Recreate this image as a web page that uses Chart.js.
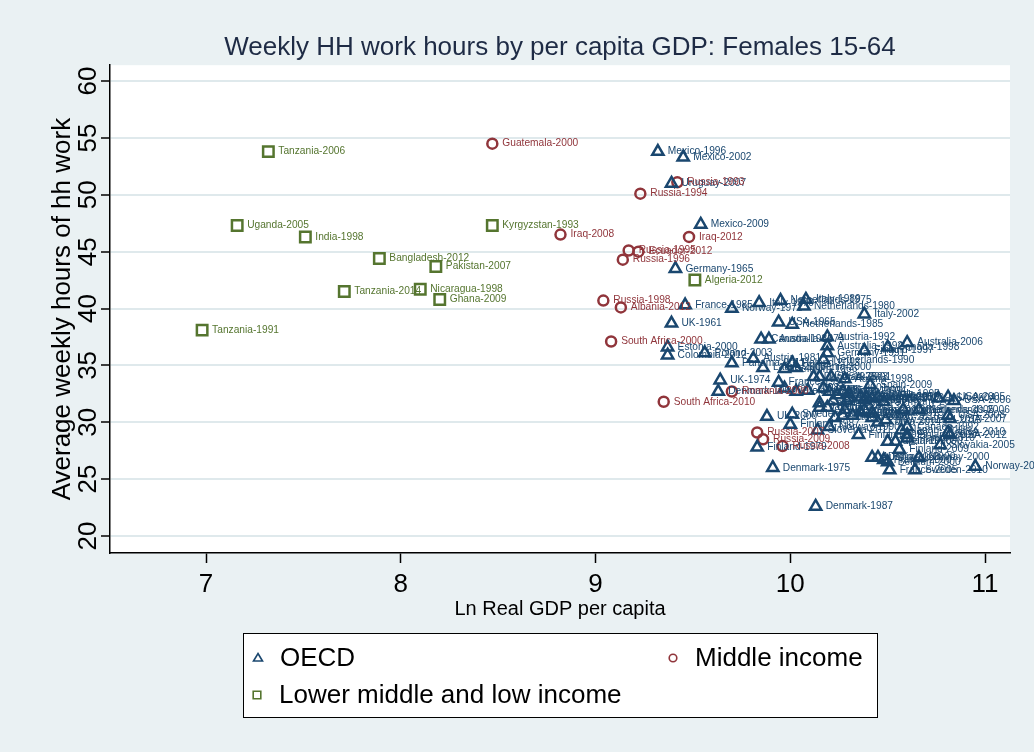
<!DOCTYPE html>
<html>
<head>
<meta charset="utf-8">
<title>Weekly HH work hours by per capita GDP</title>
<script src="https://cdn.jsdelivr.net/npm/chart.js@4.4.0/dist/chart.umd.min.js"></script>
<style>
  html, body { margin: 0; padding: 0; background: #eaf1f3; }
  #wrap { width: 1034px; height: 752px; }
</style>
</head>
<body>
<div id="wrap"><canvas id="myChart" width="1034" height="752"></canvas></div>
<script>
// colours of the stata s2color scheme
const navy = '#1a476f', maroon = '#90353b', green = '#55752f';
const fontFam = '"Liberation Sans", Arial, Helvetica, sans-serif';

const xTicks = [7, 8, 9, 10, 11];
const yTicks = [20, 25, 30, 35, 40, 45, 50, 55, 60];

// OECD
const oecdNames = ['Mexico-1996', 'Mexico-2002', 'Uruguay-2007', 'Mexico-2009', 'Germany-1965', 'France-1985',
  'Norway-1971', 'Italy-1970', 'Netherlands-1975', 'Italy-1989', 'Netherlands-1980', 'Italy-2002', 'UK-1961',
  'USA-1965', 'Netherlands-1985', 'Canada-1986', 'Australia-1974', 'Austria-1992', 'Australia-1992', 'Germany-1991',
  'Finland-1997', 'Canada-1998', 'Australia-2006', 'Netherlands-1990', 'Estonia-2000', 'Colombia-2012', 'Poland-2003',
  'Panama-2011', 'Austria-1981', 'Latvia-2003', 'Belgium-1966', 'Poland-2013', 'Slovenia-2000', 'UK-1974',
  'Denmark-1964', 'France-1999', 'Italy-2008', 'Ireland-2005', 'UK-2005', 'Denmark-2001', 'USA-1975', 'USA-2003',
  'Austria-1998', 'Japan-2001', 'Belgium-1999', 'Slovenia-2001', 'Korea-2004', 'Germany-2001', 'Spain-2003',
  'Portugal-1999', 'Canada-2005', 'Netherlands-1995', 'Sweden-2000', 'Spain-2009', 'Canada-2010', 'Germany-2012',
  'Belgium-2005', 'Israel-2010', 'Korea-2009', 'UK-2000', 'Sweden-1991', 'Finland-1987', 'Norway-1990',
  'Slovenia-2011', 'Japan-2006', 'Belgium-2013', 'Portugal-2009', 'Spain-2010', 'Italy-2014', 'Austria-2008',
  'Canada-2015', 'Ireland-2010', 'Denmark-2010', 'Germany-2013', 'Korea-2014', 'New Zealand-2010',
  'Netherlands-2005', 'Netherlands-2006', 'Canada-1992', 'Japan-2011', 'Finland-2000', 'Finland-1999',
  'Ireland-2000', 'Japan-1996', 'France-2010', 'Finland-2009', 'USA-2004', 'USA-2005', 'USA-2006', 'USA-2008',
  'USA-2007', 'USA-2010', 'USA-2012', 'Slovakia-2005', 'Austria-2000', 'Denmark-2000', 'France-2000',
  'Belgium-2000', 'Norway-2000', 'Sweden-2010', 'France-2005', 'Norway-2010', 'Denmark-1975', 'Denmark-1987',
  'Finland-1979'];
const oecdX = [9.32, 9.45, 9.39, 9.54, 9.41, 9.46,
  9.70, 9.84, 9.95, 10.08, 10.07, 10.38, 9.39,
  9.94, 10.01, 9.85, 9.89, 10.19, 10.19, 10.19,
  10.38, 10.50, 10.60, 10.17, 9.37, 9.37, 9.56,
  9.70, 9.81, 9.86, 9.97, 10.01, 10.03, 9.64,
  9.63, 9.94, 9.97, 10.03, 10.09, 10.12, 10.15, 10.21,
  10.28, 10.17, 10.20, 10.24, 10.27, 10.30, 10.15,
  10.22, 10.29, 10.30, 10.39, 10.41, 10.42, 10.48,
  10.36, 10.45, 10.38, 9.88, 10.01, 10.00, 10.20,
  10.14, 10.15, 10.19, 10.23, 10.27, 10.32, 10.36,
  10.42, 10.42, 10.28, 10.38, 10.45, 10.49,
  10.58, 10.66, 10.60, 10.57, 10.60, 10.35,
  10.54, 10.50, 10.60, 10.56, 10.76, 10.81, 10.84, 10.81,
  10.82, 10.81, 10.82, 10.77, 10.42, 10.45, 10.48,
  10.50, 10.66, 10.64, 10.51, 10.95, 9.91, 10.13,
  9.83];
const oecdY = [53.8, 53.3, 51.0, 47.4, 43.5, 40.3,
  40.0, 40.5, 40.7, 40.8, 40.2, 39.5, 38.7,
  38.8, 38.6, 37.3, 37.3, 37.5, 36.7, 36.1,
  36.3, 36.6, 37.0, 35.5, 36.6, 35.9, 36.1,
  35.2, 35.6, 34.8, 34.7, 35.2, 34.8, 33.7,
  32.7, 33.5, 33.0, 32.7, 32.8, 34.0, 34.0, 34.0,
  33.8, 33.0, 32.7, 32.4, 32.7, 32.1, 31.7,
  31.9, 31.9, 32.5, 32.2, 33.3, 32.1, 31.8,
  32.2, 32.2, 32.0, 30.5, 30.7, 29.8, 29.6,
  29.3, 31.3, 31.3, 30.4, 30.6, 30.6, 30.9,
  30.8, 30.4, 31.1, 31.1, 30.0, 30.2,
  31.1, 31.1, 29.6, 29.3, 28.9, 28.9,
  28.3, 28.3, 28.6, 27.6, 32.1, 32.2, 31.9, 30.6,
  30.3, 29.1, 28.9, 28.0, 26.9, 26.9, 26.7,
  26.5, 26.9, 25.8, 25.8, 26.1, 26.0, 22.6,
  27.8];

// Middle income
const midNames = ['Guatemala-2000', 'Russia-1993', 'Russia-1994', 'Iraq-2008', 'Iraq-2012', 'Russia-1995',
  'Ecuador-2012', 'Russia-1996', 'Russia-1998', 'Albania-2012', 'South Africa-2000', 'South Africa-2010',
  'Romania-2000', 'Russia-2007', 'Russia-2009', 'Russia-2008'];
const midX = [8.47, 9.42, 9.23, 8.82, 9.48, 9.17, 9.22, 9.14, 9.04, 9.13, 9.08, 9.35, 9.70, 9.83, 9.86, 9.96];
const midY = [54.5, 51.1, 50.1, 46.5, 46.3, 45.1, 45.0, 44.3, 40.7, 40.1, 37.1, 31.8, 32.7, 29.1, 28.5, 27.9];

// Lower middle and low income
const lowNames = ['Tanzania-2006', 'Uganda-2005', 'India-1998', 'Bangladesh-2012', 'Pakistan-2007', 'Tanzania-2014',
  'Nicaragua-1998', 'Ghana-2009', 'Tanzania-1991', 'Kyrgyzstan-1993', 'Algeria-2012'];
const lowX = [7.32, 7.16, 7.51, 7.89, 8.18, 7.71, 8.10, 8.20, 6.98, 8.47, 9.51];
const lowY = [53.8, 47.3, 46.3, 44.4, 43.7, 41.5, 41.7, 40.8, 38.1, 47.3, 42.5];

function toPoints(xs, ys) {
  return xs.map(function (x, i) { return { x: x, y: ys[i] }; });
}

function series(label, names, xs, ys, color, style, radius) {
  return {
    label: label,
    names: names,
    data: toPoints(xs, ys),
    pointStyle: style,
    pointRadius: radius,
    pointHoverRadius: radius,
    pointBorderWidth: 2.5,
    borderColor: color,
    pointBorderColor: color,
    pointBackgroundColor: 'rgba(0,0,0,0)',
    backgroundColor: 'rgba(0,0,0,0)'
  };
}

// grey page, white plot region
const background = {
  id: 'background',
  beforeDraw(chart) {
    const ctx = chart.ctx, a = chart.chartArea;
    ctx.save();
    ctx.fillStyle = '#eaf1f3';
    ctx.fillRect(0, 0, chart.width, chart.height);
    ctx.fillStyle = '#ffffff';
    ctx.fillRect(a.left, a.top, a.right - a.left, a.bottom - a.top);
    ctx.restore();
  }
};

// country-year text to the right of each marker
const pointLabels = {
  id: 'pointLabels',
  afterDatasetsDraw(chart) {
    const ctx = chart.ctx;
    ctx.save();
    ctx.font = '10.2px ' + fontFam;
    ctx.textBaseline = 'middle';
    ctx.textAlign = 'left';
    chart.data.datasets.forEach(function (ds, i) {
      const meta = chart.getDatasetMeta(i);
      ctx.fillStyle = ds.borderColor;
      meta.data.forEach(function (pt, j) {
        ctx.fillText(ds.names[j], pt.x + 10, pt.y);
      });
    });
    ctx.restore();
  }
};

function legendMark(ctx, style, x, y) {
  ctx.beginPath();
  if (style === 'triangle') {
    ctx.moveTo(x, y - 4.5);
    ctx.lineTo(x + 4.5, y + 3);
    ctx.lineTo(x - 4.5, y + 3);
    ctx.closePath();
  } else if (style === 'circle') {
    ctx.arc(x, y, 3.8, 0, Math.PI * 2);
  } else {
    ctx.rect(x - 3.8, y - 3.8, 7.6, 7.6);
  }
  ctx.stroke();
}

// stata style boxed legend, two columns
const boxLegend = {
  id: 'boxLegend',
  afterDraw(chart) {
    const ctx = chart.ctx;
    const left = 243, top = 633, w = 634, h = 84;
    const slots = [[258, 658], [673, 658], [257, 695]];
    ctx.save();
    ctx.fillStyle = '#ffffff';
    ctx.fillRect(left, top, w, h);
    ctx.strokeStyle = '#000';
    ctx.lineWidth = 1;
    ctx.strokeRect(left + 0.5, top + 0.5, w, h);
    ctx.font = '26px ' + fontFam;
    ctx.textBaseline = 'middle';
    chart.data.datasets.forEach(function (ds, i) {
      const s = slots[i];
      ctx.strokeStyle = ds.borderColor;
      ctx.lineWidth = 1.6;
      legendMark(ctx, ds.pointStyle, s[0], s[1]);
      ctx.fillStyle = '#000';
      ctx.fillText(ds.label, s[0] + 22, s[1] + 1);
    });
    ctx.restore();
  }
};

new Chart('myChart', {
  type: 'scatter',
  data: {
    datasets: [
      series('OECD', oecdNames, oecdX, oecdY, navy, 'triangle', 6.5),
      series('Middle income', midNames, midX, midY, maroon, 'circle', 5),
      series('Lower middle and low income', lowNames, lowX, lowY, green, 'rect', 7.4)
    ]
  },
  options: {
    responsive: false,
    animation: false,
    events: [],
    layout: { padding: { left: 0, right: 24, top: 0, bottom: 0 } },
    plugins: {
      legend: { display: false },
      tooltip: { enabled: false },
      title: {
        display: true,
        fullSize: false,
        text: 'Weekly HH work hours by per capita GDP: Females 15-64',
        color: '#1e2b45',
        font: { family: fontFam, size: 26, weight: 'normal' },
        padding: { top: 32, bottom: 2 }
      }
    },
    scales: {
      x: {
        type: 'linear',
        min: 6.507,
        max: 11.128,
        afterBuildTicks: function (axis) { axis.ticks = xTicks.map(function (v) { return { value: v }; }); },
        afterFit: function (s) { s.height = 199; },
        grid: { drawOnChartArea: false, drawTicks: true, tickLength: 10, tickColor: '#000', tickWidth: 1.5 },
        border: { display: true, color: '#000', width: 1.5 },
        ticks: { color: '#000', padding: 6, maxRotation: 0, autoSkip: false, font: { family: fontFam, size: 26 } },
        title: {
          display: true, text: 'Ln Real GDP per capita', color: '#000',
          font: { family: fontFam, size: 20 }, padding: { top: 0, bottom: 131 }
        }
      },
      y: {
        type: 'linear',
        min: 18.5,
        max: 61.4,
        afterBuildTicks: function (axis) { axis.ticks = yTicks.map(function (v) { return { value: v }; }); },
        afterFit: function (s) { s.width = 110; },
        grid: { color: '#dfe9ec', lineWidth: 2, tickLength: 9, tickColor: '#000', tickWidth: 1.5 },
        border: { display: true, color: '#000', width: 1.5 },
        ticks: {
          color: '#000', padding: -2, minRotation: 90, maxRotation: 90, crossAlign: 'center', autoSkip: false,
          font: { family: fontFam, size: 26 }
        },
        title: {
          display: true, text: 'Average weekly hours of hh work', color: '#000',
          font: { family: fontFam, size: 26 }, padding: { top: 47, bottom: 0 }
        }
      }
    }
  },
  plugins: [background, pointLabels, boxLegend]
});
</script>
</body>
</html>
